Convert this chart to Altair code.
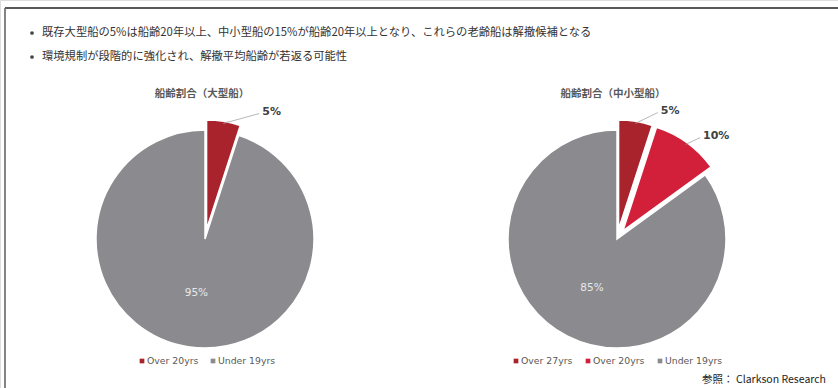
import math
import altair as alt
import pandas as pd

# ---------------- data ----------------
bullet_lines = [
    "既存大型船の5%は船齢20年以上、中小型船の15%が船齢20年以上となり、これらの老齢船は解撤候補となる",
    "環境規制が段階的に強化され、解撤平均船齢が若返る可能性",
]
left_title = "船齢割合（大型船）"
right_title = "船齢割合（中小型船）"
left_cats = ["Over 20yrs", "Under 19yrs"]
left_vals = [5, 95]
right_cats = ["Over 27yrs", "Over 20yrs", "Under 19yrs"]
right_vals = [5, 10, 85]
source_text = "参照： Clarkson Research"

# ---------------- style ----------------
DARK_RED = "#A8232B"
RED = "#D2203A"
GRAY = "#8B8B8F"
left_colors = [DARK_RED, GRAY]
right_colors = [DARK_RED, RED, GRAY]
left_explode = [True, False]
right_explode = [True, True, False]
left_label_shift = [15.5, 0]      # degrees the outside label is turned from the slice middle
right_label_shift = [9.6, 3.6, 0]
left_label_r = [127, 0]
right_label_r = [123, 121, 0]
LEFT_C = (205, 239)
RIGHT_C = (617, 239)
R = 109
EXPLODE = 10
INNER_R = 55
JP_FONT = "Noto Sans CJK JP"
LAT_FONT = "DejaVu Sans"
W, H = 838, 388


def pie_tables(cats, vals, colors, explode, shifts, lrs, center):
    cx, cy = center
    total = sum(vals)
    cum = 0
    rows = []
    for c, v, col, ex, sh, lr in zip(cats, vals, colors, explode, shifts, lrs):
        t0 = cum / total * 2 * math.pi
        t1 = (cum + v) / total * 2 * math.pi
        mid = (t0 + t1) / 2
        d = EXPLODE if ex else 0
        ox = cx + d * math.sin(mid)
        oy = cy - d * math.cos(mid)
        row = dict(cat=c, value=v, t0=t0, t1=t1, color=col, ox=ox, oy=oy,
                   label=f"{v}%", outside=ex)
        row["ix"] = cx + INNER_R * math.sin(mid)
        row["iy"] = cy - INNER_R * math.cos(mid)
        row["lx1"] = ox + (R - 2) * math.sin(mid)
        row["ly1"] = oy - (R - 2) * math.cos(mid)
        a2 = mid + math.radians(sh)
        row["lx2"] = ox + lr * math.sin(a2)
        row["ly2"] = oy - lr * math.cos(a2)
        row["tx"] = row["lx2"] + 3
        row["ty"] = row["ly2"] - 2
        rows.append(row)
        cum += v
    return pd.DataFrame(rows)


def pie_layers(df):
    arcs = alt.Chart(df).mark_arc(outerRadius=R, stroke="white", strokeWidth=1.5).encode(
        theta=alt.Theta("t0:Q", scale=None),
        theta2="t1:Q",
        x=alt.X("ox:Q", scale=None, axis=None),
        y=alt.Y("oy:Q", scale=None, axis=None),
        color=alt.Color("color:N", scale=None, legend=None),
    )
    inner = alt.Chart(df).transform_filter("!datum.outside").mark_text(
        font=LAT_FONT, fontSize=10.5, color="#E8E8E8", align="center", baseline="middle"
    ).encode(
        x=alt.X("ix:Q", scale=None, axis=None),
        y=alt.Y("iy:Q", scale=None, axis=None),
        text="label:N",
    )
    leader = alt.Chart(df).transform_filter("datum.outside").mark_rule(
        color="#A6A6A6", strokeWidth=0.8
    ).encode(
        x=alt.X("lx1:Q", scale=None, axis=None),
        y=alt.Y("ly1:Q", scale=None, axis=None),
        x2="lx2:Q",
        y2="ly2:Q",
    )
    outer = alt.Chart(df).transform_filter("datum.outside").mark_text(
        font=LAT_FONT, fontSize=11, fontWeight="bold", color="#404040",
        align="left", baseline="middle"
    ).encode(
        x=alt.X("tx:Q", scale=None, axis=None),
        y=alt.Y("ty:Q", scale=None, axis=None),
        text="label:N",
    )
    return [arcs, inner, leader, outer]


left_df = pie_tables(left_cats, left_vals, left_colors, left_explode,
                     left_label_shift, left_label_r, LEFT_C)
right_df = pie_tables(right_cats, right_vals, right_colors, right_explode,
                      right_label_shift, right_label_r, RIGHT_C)

# legends
left_leg_x = [142, 213]
right_leg_x = [516, 588, 660]
leg_df = pd.DataFrame({
    "cat": left_cats + right_cats,
    "color": left_colors + right_colors,
    "lx": left_leg_x + right_leg_x,
})
leg_df["tx"] = leg_df["lx"] + 5
leg_y = 361

legend_sq = alt.Chart(leg_df).mark_square(size=22, opacity=1).encode(
    x=alt.X("lx:Q", scale=None, axis=None),
    y=alt.value(leg_y),
    color=alt.Color("color:N", scale=None, legend=None),
    fill=alt.Fill("color:N", scale=None, legend=None),
)
legend_txt = alt.Chart(leg_df).mark_text(
    font=LAT_FONT, fontSize=9.3, color="#595959", align="left", baseline="middle"
).encode(
    x=alt.X("tx:Q", scale=None, axis=None),
    y=alt.value(leg_y),
    text="cat:N",
)

# frame
frame_top = alt.Chart(pd.DataFrame({"a": [0]})).mark_rule(color="#222222", strokeWidth=1.6).encode(
    x=alt.value(5), x2=alt.value(W), y=alt.value(8))
frame_left = alt.Chart(pd.DataFrame({"a": [0]})).mark_rule(color="#666666", strokeWidth=1.6).encode(
    x=alt.value(5), y=alt.value(8), y2=alt.value(H))

# bullets
bullet_df = pd.DataFrame({"text": bullet_lines, "row": list(range(len(bullet_lines)))})
bullet_df["y"] = 33 + bullet_df["row"] * 24
dots = alt.Chart(bullet_df).mark_point(
    shape="circle", filled=True, size=14, color="#444444", opacity=1
).encode(x=alt.value(32), y=alt.Y("y:Q", scale=None, axis=None))
btxt = alt.Chart(bullet_df).mark_text(
    font=JP_FONT, fontSize=11.3, color="#333333", align="left", baseline="middle"
).encode(x=alt.value(42), y=alt.Y("y:Q", scale=None, axis=None), text="text:N")

# titles
title_df = pd.DataFrame({"t": [left_title, right_title], "x": [202, 613]})
titles = alt.Chart(title_df).mark_text(
    font=JP_FONT, fontSize=10.5, fontWeight="bold", color="#595959", align="center", baseline="middle"
).encode(x=alt.X("x:Q", scale=None, axis=None), y=alt.value(94), text="t:N")

source = alt.Chart(pd.DataFrame({"t": [source_text]})).mark_text(
    font=JP_FONT, fontSize=10.5, color="#222222", align="right", baseline="middle"
).encode(x=alt.value(826), y=alt.value(380), text="t:N")

layers = [frame_top, frame_left, dots, btxt, titles] + pie_layers(left_df) + pie_layers(right_df) + [
    legend_sq, legend_txt, source]

chart = alt.layer(*layers).properties(
    width=W, height=H, padding=0,
    autosize=alt.AutoSizeParams(type="none"),
).configure_view(stroke=None).configure(background="white")

chart.save("out.html", embed_options={"renderer": "svg", "actions": False})
